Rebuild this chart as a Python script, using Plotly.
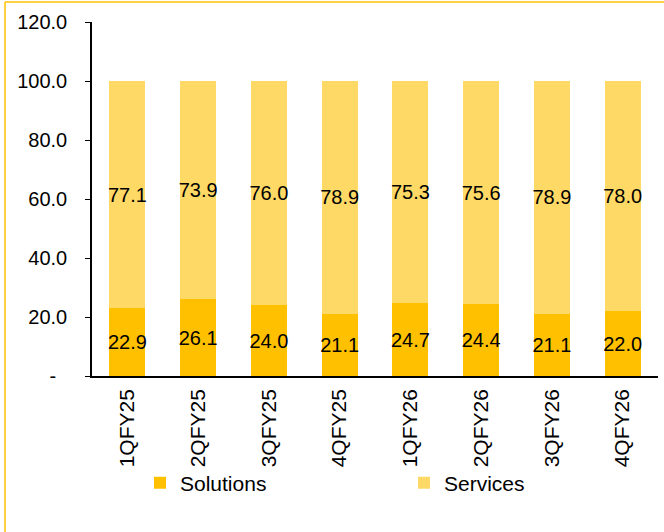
import plotly.graph_objects as go

QUARTERS = ["1QFY25", "2QFY25", "3QFY25", "4QFY25", "1QFY26", "2QFY26", "3QFY26", "4QFY26"]
SOLUTIONS = [22.9, 26.1, 24.0, 21.1, 24.7, 24.4, 21.1, 22.0]
SERVICES = [77.1, 73.9, 76.0, 78.9, 75.3, 75.6, 78.9, 78.0]
Y_TICKS = [0, 20, 40, 60, 80, 100, 120]
Y_TICKTEXT = ["-\u00a0\u00a0", "20.0", "40.0", "60.0", "80.0", "100.0", "120.0"]

SOL_COLOR = "#FFC000"
SER_COLOR = "#FFD966"
FONT = "Liberation Sans, Arial, sans-serif"

fig = go.Figure()
fig.add_trace(go.Bar(
    x=QUARTERS, y=SOLUTIONS, name="Solutions",
    marker=dict(color=SOL_COLOR, line=dict(width=0)),
    text=[f"{v:.1f}" for v in SOLUTIONS],
    textposition="inside", insidetextanchor="middle", constraintext="none", textangle=0,
    textfont=dict(size=20, color="black", family=FONT),
))
fig.add_trace(go.Bar(
    x=QUARTERS, y=SERVICES, name="Services",
    marker=dict(color=SER_COLOR, line=dict(width=0)),
    text=[f"{v:.1f}" for v in SERVICES],
    textposition="inside", insidetextanchor="middle", constraintext="none", textangle=0,
    textfont=dict(size=20, color="black", family=FONT),
))

# frame (left and top edges only, as in the source)
L, T = 92, 22
PW, PH = 566, 354
px = lambda v: (v - L) / PW
py = lambda v: (T + PH - v) / PH
frame = dict(color="#FFC000", width=1.5)
fig.add_shape(type="line", xref="paper", yref="paper",
              x0=px(5), x1=px(5), y0=py(2), y1=py(540), line=frame)
fig.add_shape(type="line", xref="paper", yref="paper",
              x0=px(5), x1=px(670), y0=py(2), y1=py(2), line=frame)

fig.update_layout(
    barmode="stack", bargap=0.49,
    width=664, height=532,
    margin=dict(l=L, r=664 - L - PW, t=T, b=532 - T - PH, autoexpand=False),
    plot_bgcolor="white", paper_bgcolor="white",
    font=dict(family=FONT, size=20, color="black"),
    showlegend=True,
    legend=dict(orientation="h", x=px(140), xanchor="left", y=py(483), yanchor="middle",
                entrywidth=219, entrywidthmode="pixels", bgcolor="rgba(0,0,0,0)",
                font=dict(size=21), traceorder="normal", itemclick=False),
)
fig.update_xaxes(showline=True, linecolor="black", linewidth=1.5, ticks="",
                 tickangle=-90, tickfont=dict(size=21), ticklabelstandoff=3,
                 automargin=False)
fig.update_yaxes(range=[0, 120], tickvals=Y_TICKS, ticktext=Y_TICKTEXT,
                 showline=True, linecolor="black", linewidth=1.5, ticks="outside",
                 ticklen=5, tickcolor="black", showgrid=False, zeroline=False,
                 tickfont=dict(size=20), ticklabelstandoff=14, automargin=False)

fig.write_html("out.html", config={"displayModeBar": False},
               post_script="document.body.style.margin='0';")
